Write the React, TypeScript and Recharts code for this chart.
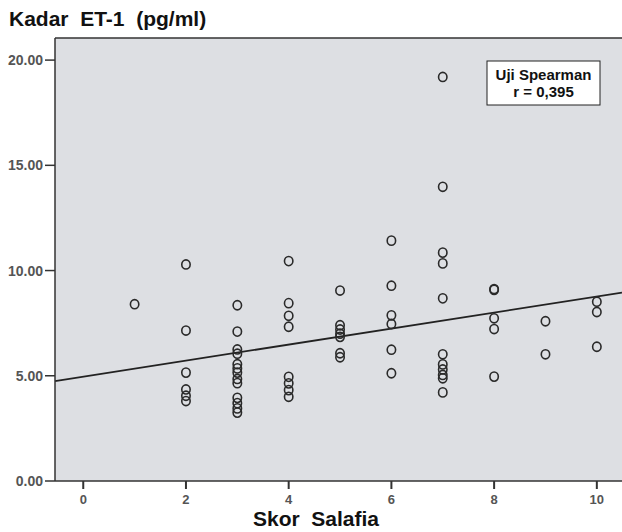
import React from 'react';
import { ScatterChart, Scatter, XAxis, YAxis, CartesianGrid, ReferenceLine } from 'recharts';

// Skor Salafia (x) and Kadar ET-1 (pg/ml) (y)
const skorSalafia: number[] = [
  1,
  2, 2, 2, 2, 2, 2,
  3, 3, 3, 3, 3, 3, 3, 3, 3, 3, 3, 3, 3,
  4, 4, 4, 4, 4, 4, 4, 4,
  5, 5, 5, 5, 5, 5, 5,
  6, 6, 6, 6, 6, 6,
  7, 7, 7, 7, 7, 7, 7, 7, 7, 7, 7,
  8, 8, 8, 8, 8,
  9, 9,
  10, 10, 10,
];
const kadarET1: number[] = [
  8.4,
  10.29, 7.15, 5.15, 4.35, 4.05, 3.8,
  8.35, 7.1, 6.25, 6.05, 5.55, 5.35, 5.15, 4.85, 4.65, 3.95, 3.7, 3.45, 3.25,
  10.45, 8.45, 7.85, 7.33, 4.95, 4.64, 4.32, 4.0,
  9.05, 7.4, 7.2, 7.0, 6.85, 6.07, 5.88,
  11.42, 9.28, 7.87, 7.46, 6.24, 5.12,
  19.2, 13.98, 10.85, 10.34, 8.68, 6.02, 5.54, 5.3, 5.04, 4.88, 4.21,
  9.12, 9.08, 7.73, 7.22, 4.96,
  7.59, 6.02,
  8.52, 8.03, 6.38,
];

// Fit line end points (read at the plot edges)
const fitX: number[] = [-0.55, 10.49];
const fitY: number[] = [4.75, 8.95];

const xTicks: number[] = [0, 2, 4, 6, 8, 10];
const yTicks: number[] = [0, 5, 10, 15, 20];
const xDomain: [number, number] = [-0.55, 10.49];
const yDomain: [number, number] = [0, 21.05];

const titleText = 'Kadar  ET-1  (pg/ml)';
const xLabelText = 'Skor  Salafia';
const boxLine1 = 'Uji Spearman';
const boxLine2 = 'r = 0,395';

const points = skorSalafia.map((x, i) => ({ x, y: kadarET1[i] }));

const FONT = '"Liberation Sans", Arial, Helvetica, sans-serif';

const Ring = (props: any) => {
  const { cx, cy } = props;
  if (cx == null || cy == null) return null;
  return <ellipse cx={cx} cy={cy} rx={4.2} ry={4.6} fill="none" stroke="#2a2a2a" strokeWidth={1.6} />;
};

export default function App() {
  return (
    <div style={{ position: 'absolute', left: 0, top: 0, width: 622, height: 532, overflow: 'hidden', background: '#fff', fontFamily: FONT }}>
      <ScatterChart width={622} height={532} margin={{ top: 38, right: 0, bottom: 0, left: 0 }}>
        <CartesianGrid horizontal={false} vertical={false} fill="#dddfe3" stroke="none" />
        <XAxis
          type="number"
          dataKey="x"
          domain={xDomain}
          allowDataOverflow
          ticks={xTicks}
          height={51}
          tickSize={8}
          tickMargin={6}
          axisLine={{ stroke: '#333', strokeWidth: 1.5 }}
          tickLine={{ stroke: '#333', strokeWidth: 2 }}
          tick={{ fill: '#555', fontSize: 13, fontWeight: 'bold', fontFamily: FONT }}
        />
        <YAxis
          type="number"
          dataKey="y"
          domain={yDomain}
          allowDataOverflow
          ticks={yTicks}
          width={55}
          tickSize={10}
          tickMargin={2}
          tickFormatter={(v: number) => v.toFixed(2)}
          axisLine={{ stroke: '#333', strokeWidth: 1.5 }}
          tickLine={{ stroke: '#333', strokeWidth: 1.5 }}
          tick={{ fill: '#555', fontSize: 14, fontWeight: 'bold', fontFamily: FONT }}
        />
        <ReferenceLine y={yDomain[1]} stroke="#333" strokeWidth={1.5} ifOverflow="visible" />
        <ReferenceLine
          segment={[{ x: fitX[0], y: fitY[0] }, { x: fitX[1], y: fitY[1] }]}
          stroke="#222"
          strokeWidth={1.8}
          ifOverflow="visible"
        />
        <Scatter data={points} shape={Ring} isAnimationActive={false} />
      </ScatterChart>
      <svg width={622} height={532} style={{ position: 'absolute', left: 0, top: 0, pointerEvents: 'none' }}>
        <text x={9} y={26} fontSize={21} fontWeight="bold" fill="#111" fontFamily={FONT} style={{ whiteSpace: 'pre' }}>
          {titleText}
        </text>
        <text x={316} y={526} textAnchor="middle" fontSize={21} fontWeight="bold" fill="#111" fontFamily={FONT} style={{ whiteSpace: 'pre' }}>
          {xLabelText}
        </text>
        <rect x={487} y={61} width={113} height={44} fill="#fff" stroke="#222" strokeWidth={1} />
        <text x={543.5} y={80} textAnchor="middle" fontSize={15} fontWeight="bold" fill="#111" fontFamily={FONT}>
          {boxLine1}
        </text>
        <text x={543.5} y={97} textAnchor="middle" fontSize={15} fontWeight="bold" fill="#111" fontFamily={FONT}>
          {boxLine2}
        </text>
      </svg>
    </div>
  );
}
